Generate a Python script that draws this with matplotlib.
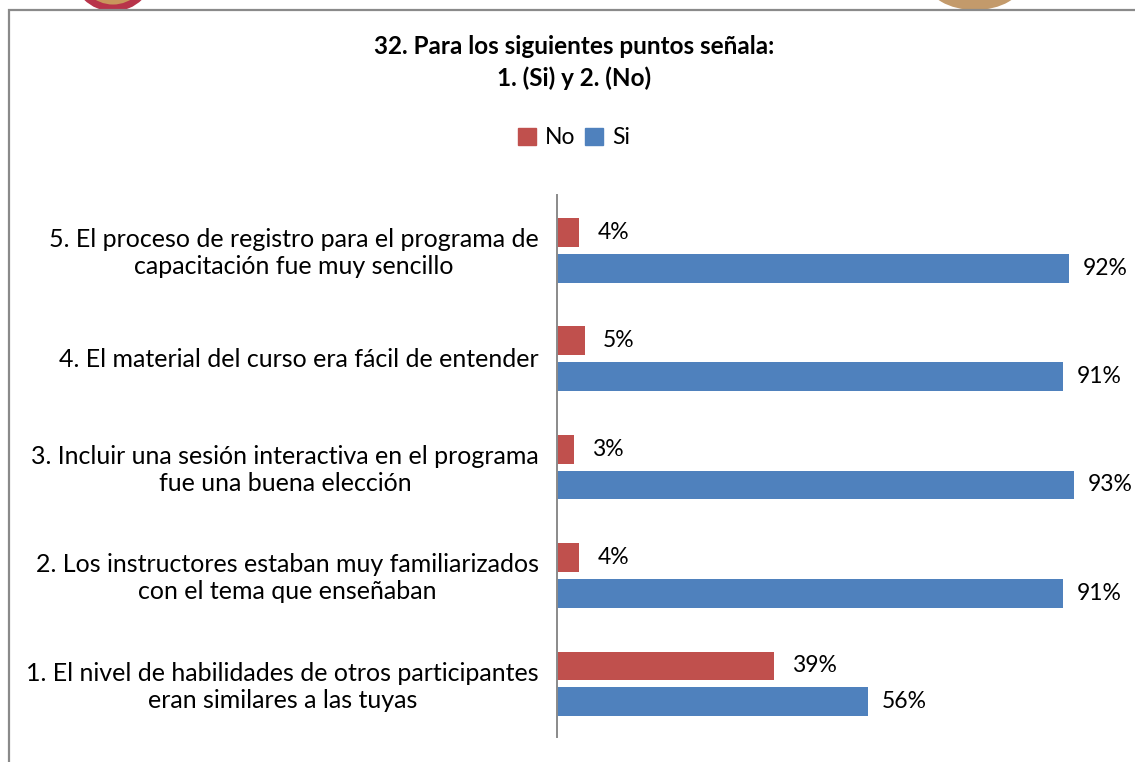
import matplotlib.pyplot as plt
from matplotlib.patches import Patch, Rectangle, Circle, Ellipse

plt.rcParams['font.family'] = ['Lato', 'DejaVu Sans']

# Data (bottom to top as drawn)
categories = [
    "1. El nivel de habilidades de otros participantes\neran similares a las tuyas",
    "2. Los instructores estaban muy familiarizados\ncon el tema que enseñaban",
    "3. Incluir una sesión interactiva en el programa\nfue una buena elección",
    "4. El material del curso era fácil de entender",
    "5. El proceso de registro para el programa de\ncapacitación fue muy sencillo",
]
no_values = [39, 4, 3, 5, 4]
si_values = [56, 91, 93, 91, 92]

red = '#C0504D'
blue = '#4F81BD'

W, H = 1135, 762
fig = plt.figure(figsize=(W / 100, H / 100), dpi=100)

# bits of the page logos peeking in above the chart frame (pixel coords)
fig.patches.append(Circle((113, H + 30), 38, transform=None, facecolor='#C9965C',
                          edgecolor='#B8344A', linewidth=5, zorder=-3))
fig.patches.append(Ellipse((975, H + 18), 95, 56, transform=None,
                           facecolor='#C39A6B', edgecolor='none', zorder=-3))

# outer frame of the chart area (cut off at right and bottom)
fig.patches.append(Rectangle((9 / W, -0.1), 1.2, 1 - 10 / H + 0.1,
                             transform=fig.transFigure, facecolor='white',
                             edgecolor='#8a8a8a', linewidth=1.6, zorder=-2))

ax = fig.add_axes([557 / W, 1 - 737 / H, 556 / W, 542 / H])
ax.patch.set_alpha(0)

y = list(range(len(categories)))
h = 0.265
ax.barh([v + 0.155 for v in y], no_values, height=h, color=red)
ax.barh([v - 0.175 for v in y], si_values, height=h, color=blue)

for i in y:
    ax.annotate(f"{no_values[i]}%", (no_values[i], i + 0.155), xytext=(13, 0),
                textcoords='offset points', va='center', ha='left', fontsize=16.5)
    ax.annotate(f"{si_values[i]}%", (si_values[i], i - 0.175), xytext=(10, 0),
                textcoords='offset points', va='center', ha='left', fontsize=16.5)

ax.set_xlim(0, 100)
ax.set_ylim(-0.5, len(categories) - 0.5)
ax.set_yticks(y)
ax.set_yticklabels(categories, fontsize=18, multialignment='center')
ax.tick_params(axis='y', length=0, pad=13)
ax.set_xticks([])
for s in ['top', 'right', 'bottom']:
    ax.spines[s].set_visible(False)
ax.spines['left'].set_color('#8a8a8a')
ax.spines['left'].set_linewidth(1.4)

fig.text(574 / W, 1 - 47 / H, "32. Para los siguientes puntos señala:",
         ha='center', va='center', fontsize=17.5, fontweight='bold')
fig.text(574 / W, 1 - 78 / H, "1. (Si) y 2. (No)",
         ha='center', va='center', fontsize=17.5, fontweight='bold')

handles = [Patch(color=red, label='No'), Patch(color=blue, label='Si')]
fig.legend(handles=handles, loc='center', bbox_to_anchor=(574 / W, 1 - 138 / H),
           ncol=2, frameon=False, fontsize=16.5, handlelength=0.8, handleheight=0.8,
           handletextpad=0.4, columnspacing=0.4)

fig.savefig('out.png', dpi=100)
